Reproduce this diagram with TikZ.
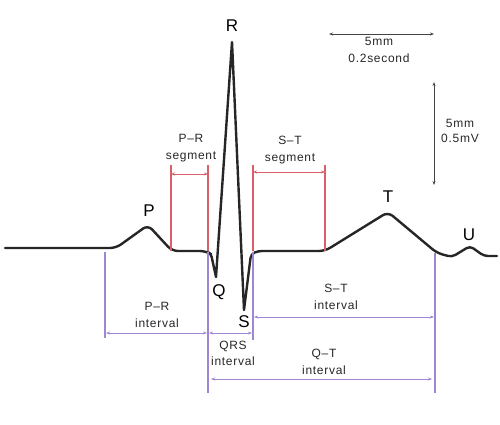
\documentclass[tikz,border=0pt]{standalone}
\usepackage{fontspec}
\setmainfont{Liberation Sans}
\newfontfamily\lbl[LetterSpace=6]{Liberation Sans}
\usetikzlibrary{arrows.meta}
\definecolor{segred}{HTML}{D9606A}
\definecolor{intpurple}{HTML}{9F86D4}
\definecolor{scalegray}{HTML}{444444}
\tikzset{
  ecg/.style={line width=2.4pt, black!85, line join=round, line cap=round},
  wavelbl/.style={font=\fontsize{17}{17}\selectfont, inner sep=0pt},
  dimlbl/.style={font=\lbl\fontsize{12}{16.5}\selectfont, text=black!85, align=center, inner sep=0pt},
  segline/.style={segred, line width=1.1pt},
  segarrow/.style={segred, line width=0.7pt, {Stealth[length=4pt,width=3pt]}-{Stealth[length=4pt,width=3pt]}},
  intline/.style={intpurple, line width=1.1pt},
  intarrow/.style={intpurple, line width=0.7pt, {Stealth[length=4pt,width=3pt]}-{Stealth[length=4pt,width=3pt]}},
  scalearrow/.style={scalegray, line width=0.7pt, {Stealth[length=4pt,width=3pt]}-{Stealth[length=4pt,width=3pt]}},
}
\begin{document}
\begin{tikzpicture}[x=1pt,y=-1pt]
\useasboundingbox (0,0) rectangle (500,424);
% ECG trace
\draw[ecg, rounded corners=6pt] (5,248) -- (116,248) -- (148,225) -- (172,251) -- (206,251)
  [rounded corners=3pt] -- (211,254) [sharp corners] -- (216,277) -- (232,42) -- (244,310)
  [rounded corners=4pt] -- (251,254) -- (258,251) [rounded corners=6pt] -- (325,251) -- (388,212) -- (437,253)
  [rounded corners=4pt] -- (452,257) -- (470,246) -- (484,256) -- (497,256);
% wave labels
\node[wavelbl] (P) at (149,211) {P};
\node[wavelbl] (Q) at (219,292) {Q};
\node[wavelbl] (R) at (232,26) {R};
\node[wavelbl] (S) at (244,322) {S};
\node[wavelbl] (T) at (388,197) {T};
\node[wavelbl] (U) at (469,235) {U};
% segment (red) lines
\coordinate (prs1t) at (171,165); \coordinate (prs1b) at (171,251);
\coordinate (prs2t) at (208,165); \coordinate (prs2b) at (208,251);
\coordinate (sts1t) at (253,165); \coordinate (sts1b) at (253,251);
\coordinate (sts2t) at (325,165); \coordinate (sts2b) at (325,251);
\draw[segline] (prs1t) -- (prs1b);
\draw[segline] (prs2t) -- (prs2b);
\draw[segline] (sts1t) -- (sts1b);
\draw[segline] (sts2t) -- (sts2b);
\coordinate (prsa1) at (171,174); \coordinate (prsa2) at (208,174);
\coordinate (stsa1) at (253,172); \coordinate (stsa2) at (325,172);
\draw[segarrow] (prsa1) -- (prsa2);
\draw[segarrow] (stsa1) -- (stsa2);
\node[dimlbl] (prseg) at (191,148) {P–R\\segment};
\node[dimlbl] (stseg) at (290,150) {S–T\\segment};
% interval (purple) lines
\coordinate (i1t) at (105,252); \coordinate (i1b) at (105,338);
\coordinate (i2t) at (208,252); \coordinate (i2b) at (208,393);
\coordinate (i3t) at (253,252); \coordinate (i3b) at (253,340);
\coordinate (i4t) at (435,253); \coordinate (i4b) at (435,393);
\draw[intline] (i1t) -- (i1b);
\draw[intline] (i2t) -- (i2b);
\draw[intline] (i3t) -- (i3b);
\draw[intline] (i4t) -- (i4b);
\coordinate (pra1) at (106,333); \coordinate (pra2) at (207,333);
\coordinate (qrsa1) at (209,333); \coordinate (qrsa2) at (252,333);
\coordinate (stia1) at (254,317); \coordinate (stia2) at (434,317);
\coordinate (qta1) at (211,379); \coordinate (qta2) at (432,379);
\draw[intarrow] (pra1) -- (pra2);
\draw[intarrow] (qrsa1) -- (qrsa2);
\draw[intarrow] (stia1) -- (stia2);
\draw[intarrow] (qta1) -- (qta2);
\node[dimlbl] (print) at (157,315) {P–R\\interval};
\node[dimlbl] (qrsint) at (233,353.5) {QRS\\interval};
\node[dimlbl] (stint) at (336,297) {S–T\\interval};
\node[dimlbl] (qtint) at (324,362) {Q–T\\interval};
% scale bars
\coordinate (h1) at (329,34); \coordinate (h2) at (434,34);
\coordinate (v1) at (434,82); \coordinate (v2) at (434,185);
\draw[scalearrow] (h1) -- (h2);
\draw[scalearrow] (v1) -- (v2);
\node[dimlbl] (hscale) at (379,50) {5mm\\0.2second};
\node[dimlbl, font=\lbl\fontsize{12}{15}\selectfont] (vscale) at (460,131) {5mm\\0.5mV};
\end{tikzpicture}
\end{document}
